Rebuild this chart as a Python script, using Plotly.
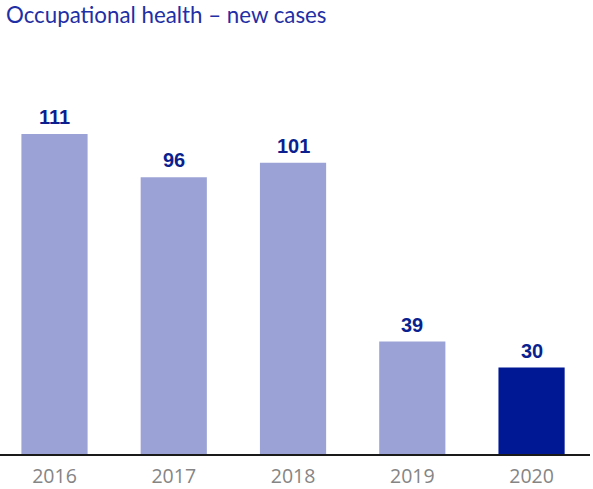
import plotly.graph_objects as go

years = ["2016", "2017", "2018", "2019", "2020"]
cases = [111, 96, 101, 39, 30]
bar_colors = ["#9ba3d6", "#9ba3d6", "#9ba3d6", "#9ba3d6", "#001894"]

fig = go.Figure(go.Bar(
    x=years, y=cases,
    marker=dict(color=bar_colors, line=dict(width=0)),
    width=0.555,
    hoverinfo="x+y",
))

for i, v in enumerate(cases):
    fig.add_annotation(x=i, y=v, xref="x", yref="y", text=f"<b>{v}</b>", showarrow=False,
                       yanchor="bottom", yshift=4,
                       font=dict(family="Liberation Sans, Arial", size=20, color="#0b1f8f"))

fig.update_layout(
    width=593, height=489,
    margin=dict(l=0, r=3, t=40, b=35),
    paper_bgcolor="white", plot_bgcolor="white",
    showlegend=False,
    title=dict(text="Occupational health – new cases", x=0.01, xanchor="left",
               y=0.969, yanchor="middle",
               font=dict(family="Lato, Noto Sans", size=22.3, color="#1f2fa5")),
    xaxis=dict(type="category", range=[-0.457, 4.49], showgrid=False,
               showline=True, linecolor="#1a1a1a", linewidth=1.5,
               ticks="", ticklabelstandoff=4,
               tickfont=dict(family="Open Sans, Noto Sans", size=19.5, color="#858585")),
    yaxis=dict(range=[0, 143.6], visible=False, showgrid=False),
)

fig.write_html("out.html")
